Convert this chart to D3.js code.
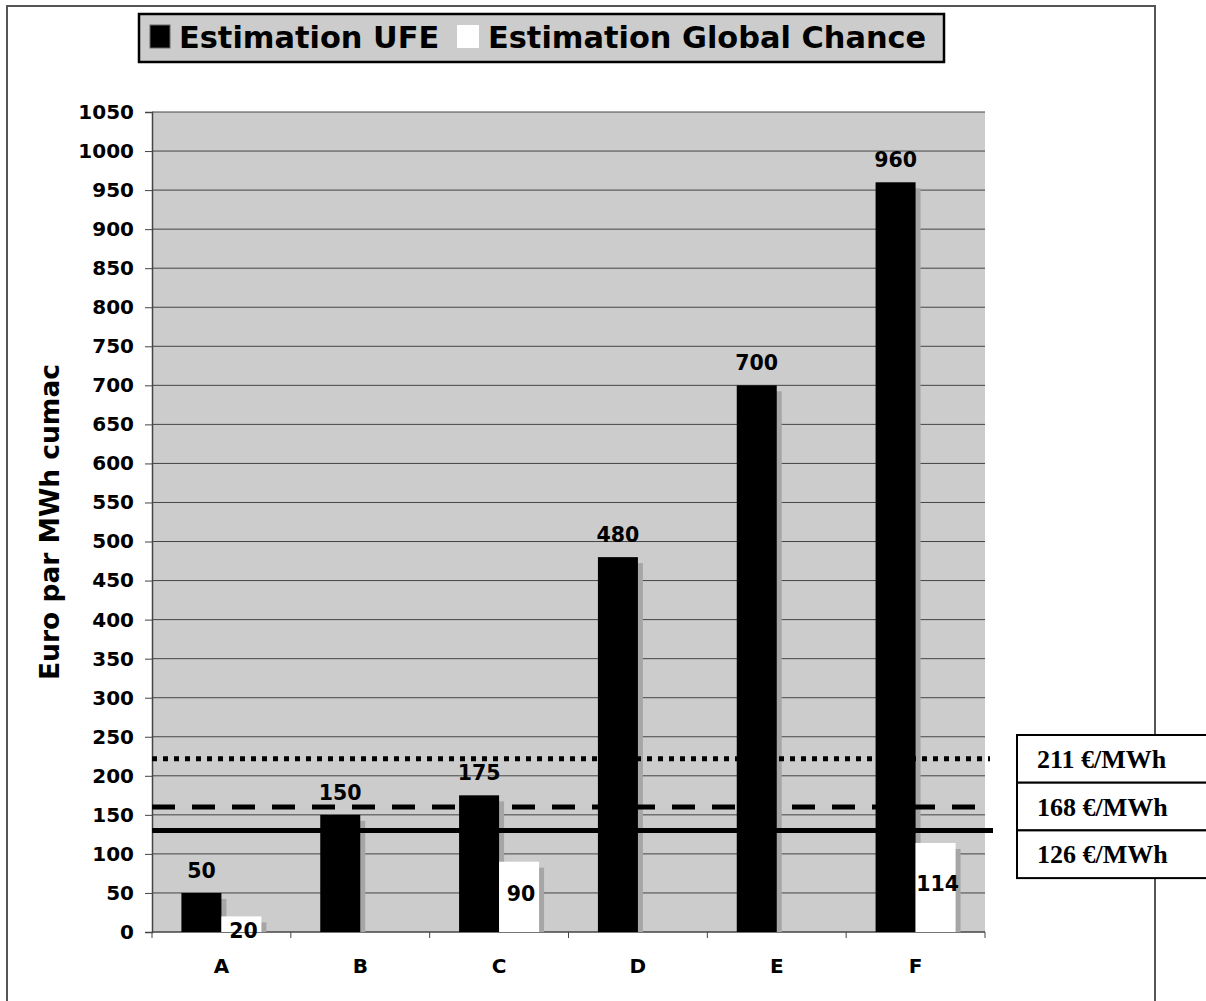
<!DOCTYPE html>
<html><head><meta charset="utf-8">
<script src="https://cdn.jsdelivr.net/npm/d3@7"></script>
<style>body{margin:0;background:#fff}svg{display:block}</style>
</head><body>
<script>
const categories = ["A","B","C","D","E","F"];
const seriesNames = ["Estimation UFE","Estimation Global Chance"];
const ufe = [50,150,175,480,700,960];
const globalChance = [20,null,90,null,null,114];
const yTicks = d3.range(0,1051,50);
const refValues = [222,160,130];
const refLabels = ["211 €/MWh","168 €/MWh","126 €/MWh"];
const refStyles = ["dotted","dashed","solid"];

const W=1206,H=1001;
const svg=d3.select("body").append("svg").attr("width",W).attr("height",H);
const font="'DejaVu Sans', Verdana, sans-serif";
const L=152,R=985,T=112,B=932;
const x=d3.scaleBand().domain(categories).range([L,R]);
const y=d3.scaleLinear().domain([0,1050]).range([B,T]);
const bw=40;

// outer frame
svg.append("path").attr("d",`M7,${H} L7,6 L1155,6 L1155,${H}`).attr("fill","none").attr("stroke","#555").attr("stroke-width",2);

// plot bg
svg.append("rect").attr("x",L).attr("y",T).attr("width",R-L).attr("height",B-T).attr("fill","#cccccc");
// grid
svg.append("g").selectAll("line").data(yTicks.filter(d=>d>0)).join("line")
 .attr("x1",L).attr("x2",R).attr("y1",d=>y(d)).attr("y2",d=>y(d)).attr("stroke","#444").attr("stroke-width",1);

// y axis
const ya=svg.append("g").attr("transform",`translate(${L},0)`).call(d3.axisLeft(y).tickValues(yTicks).tickFormat(d3.format("d")).tickSize(7).tickPadding(11));
ya.select(".domain").attr("stroke","#444").attr("stroke-width",1.5);
ya.selectAll(".tick line").attr("stroke","#444");
ya.selectAll("text").attr("font-family",font).attr("font-weight","bold").attr("font-size",20).attr("fill","#000");

// x axis
const xa=svg.append("g").attr("transform",`translate(0,${B})`);
xa.append("line").attr("x1",L).attr("x2",R).attr("stroke","#444").attr("stroke-width",1.5);
xa.selectAll("line.t").data(d3.range(categories.length+1)).join("line").attr("class","t")
 .attr("x1",i=>L+i*x.step()).attr("x2",i=>L+i*x.step()).attr("y1",0).attr("y2",6).attr("stroke","#444");
xa.selectAll("text").data(categories).join("text")
 .attr("x",d=>x(d)+x.bandwidth()/2).attr("y",41).attr("text-anchor","middle")
 .attr("font-family",font).attr("font-weight","bold").attr("font-size",20).text(d=>d);

// bars
const data=[];
categories.forEach((c,i)=>{
  data.push({c,s:0,v:ufe[i]});
  if(globalChance[i]!=null) data.push({c,s:1,v:globalChance[i]});
});
const bx=d=>x(d.c)+x.bandwidth()/2-bw+d.s*bw;
const g=svg.append("g");
g.selectAll("rect.sh").data(data).join("rect").attr("class","sh")
 .attr("x",d=>bx(d)+5).attr("y",d=>y(d.v)+6).attr("width",bw).attr("height",d=>Math.max(0,B-y(d.v)-6)).attr("fill","#a6a6a6");
g.selectAll("rect.b").data(data).join("rect").attr("class","b")
 .attr("x",bx).attr("y",d=>y(d.v)).attr("width",bw).attr("height",d=>B-y(d.v)).attr("fill",d=>d.s?"#fff":"#000");

// reference lines
const dash={dotted:"5,6",dashed:"23,17",solid:null};
svg.selectAll("line.ref").data(refValues).join("line").attr("class","ref")
 .attr("x1",L).attr("x2",(d,i)=>i===2?993:990).attr("y1",d=>y(d)).attr("y2",d=>y(d))
 .attr("stroke","#000").attr("stroke-width",5).attr("stroke-dasharray",(d,i)=>dash[refStyles[i]]);

// labels
svg.selectAll("text.vl").data(data).join("text").attr("class","vl")
 .attr("x",d=>bx(d)+bw/2+(d.s?2:0))
 .attr("y",d=>d.s? ((B-y(d.v))<25 ? B+6 : (y(d.v)+B)/2+4) : y(d.v)-15)
 .attr("text-anchor","middle").attr("font-family",font).attr("font-weight","bold").attr("font-size",20.5).text(d=>d.v);

// y title
svg.append("text").attr("transform",`translate(59,522) rotate(-90)`).attr("text-anchor","middle")
 .attr("font-family",font).attr("font-weight","bold").attr("font-size",26.5).text("Euro par MWh cumac");

// legend
const lg=svg.append("g");
lg.append("rect").attr("x",139).attr("y",14).attr("width",805).attr("height",48).attr("fill","#cccccc").attr("stroke","#000").attr("stroke-width",2.5);
lg.append("rect").attr("x",150).attr("y",25).attr("width",20).attr("height",23).attr("fill","#000").attr("stroke","#666").attr("stroke-width",1);
lg.append("text").attr("x",179).attr("y",48).attr("font-family",font).attr("font-weight","bold").attr("font-size",30.4).text(seriesNames[0]);
lg.append("rect").attr("x",457).attr("y",25).attr("width",22).attr("height",23).attr("fill","#fff");
lg.append("text").attr("x",488).attr("y",48).attr("font-family",font).attr("font-weight","bold").attr("font-size",30.4).text(seriesNames[1]);

// ref label box
const bxg=svg.append("g");
const rowH=47.7;
bxg.selectAll("rect").data(refLabels).join("rect")
 .attr("x",1017).attr("y",(d,i)=>735+i*rowH).attr("width",200).attr("height",rowH)
 .attr("fill","#fff").attr("stroke","#000").attr("stroke-width",2);
bxg.selectAll("text").data(refLabels).join("text")
 .attr("x",1037).attr("y",(d,i)=>735+i*rowH+33)
 .attr("font-family","'Liberation Serif','Times New Roman',serif").attr("font-weight","bold").attr("font-size",26).text(d=>d);
</script>
</body></html>
